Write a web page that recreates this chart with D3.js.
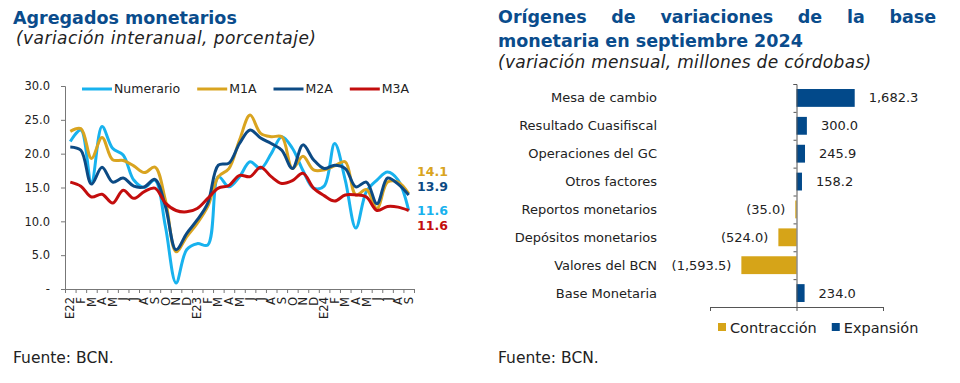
<!DOCTYPE html>
<html>
<head>
<meta charset="utf-8">
<script src="https://cdn.jsdelivr.net/npm/d3@7"></script>
<style>
  body { margin: 0; background: #fff; }
  svg { display: block; }
  text { font-family: "DejaVu Sans", Verdana, sans-serif; fill: #222; }
</style>
</head>
<body>
<svg id="chart" width="960" height="383"></svg>
<script>
// data - left chart (monthly, E22 .. S24)
var meses = ["E22","F","M","A","M","J","J","A","S","O","N","D",
             "E23","F","M","A","M","J","J","A","S","O","N","D",
             "E24","F","M","A","M","J","J","A","S"];
var numerario = [21.8,23.5,15.8,24.0,20.8,19.8,16.1,15.0,16.1,9.2,0.9,5.8,
                 6.7,6.5,16.6,15.1,16.6,18.8,17.8,20.0,22.5,20.8,17.5,14.9,
                 15.2,21.5,16.1,9.0,14.4,16.1,17.3,16.1,11.6];
var m1a = [23.3,23.7,19.3,22.4,19.1,19.0,18.2,17.2,18.0,13.1,5.5,7.7,
           9.7,12.2,16.6,17.8,22.0,25.7,23.0,22.5,22.5,17.8,19.6,17.6,
           17.6,18.2,18.8,13.9,14.7,11.9,15.8,15.8,14.1];
var m2a = [21.0,20.5,15.5,18.0,15.8,16.4,15.2,15.1,16.2,12.2,5.8,8.2,
           10.2,12.7,18.3,18.6,21.5,23.5,22.3,21.5,20.5,17.8,21.3,19.1,
           17.8,18.3,17.8,15.1,15.8,12.6,16.4,15.5,13.9];
var m3a = [15.8,15.2,13.6,14.0,12.7,14.6,13.4,14.4,14.9,12.7,11.6,11.4,
           11.9,13.4,14.9,15.3,16.8,16.6,18.0,16.6,15.6,16.0,17.1,14.9,
           13.8,13.0,13.9,13.9,13.6,11.6,12.2,12.1,11.6];
var seriesNames = ["Numerario","M1A","M2A","M3A"];
var yTicks = [0,5,10,15,20,25,30];

// data - right chart
var categorias = ["Mesa de cambio","Resultado Cuasifiscal","Operaciones del GC","Otros factores",
                  "Reportos monetarios","Depósitos monetarios","Valores del BCN","Base Monetaria"];
var valores = [1682.3,300.0,245.9,158.2,-35.0,-524.0,-1593.5,234.0];
var leyendaBarras = ["Contracción","Expansión"];

var azulTitulo = "#0a4c8c";
var colores = {"Numerario": "#18b2ee", "M1A": "#d9a420", "M2A": "#0c4a84", "M3A": "#c30d0d"};
var colContr = "#d6a418", colExp = "#02498a";

var svg = d3.select("#chart");

// ---------- titles ----------
svg.append("text")
    .attr("x", 13).attr("y", 24)
    .style("font-weight", "bold").style("font-size", "17.5px")
    .style("fill", azulTitulo)
    .text("Agregados monetarios");

svg.append("text")
    .attr("x", 16).attr("y", 44)
    .style("font-style", "italic").style("font-size", "17px")
    .style("letter-spacing", "0.45px")
    .text("(variación interanual, porcentaje)");

// justified first line of right title
var palabras = "Orígenes de variaciones de la base".split(" ");
var gTit = svg.append("g").style("font-weight", "bold").style("font-size", "17.5px");
var nodos = palabras.map(function(w) {
    return gTit.append("text").attr("y", 23).style("fill", azulTitulo).text(w);
});
var anchos = nodos.map(function(n) { return n.node().getComputedTextLength(); });
var hueco = (936 - 498 - d3.sum(anchos)) / (palabras.length - 1);
var xx = 498;
nodos.forEach(function(n, i) {
    n.attr("x", xx);
    xx += anchos[i] + hueco;
});

gTit.append("text")
    .attr("x", 498).attr("y", 47)
    .style("fill", azulTitulo)
    .text("monetaria en septiembre 2024");

svg.append("text")
    .attr("x", 498).attr("y", 68)
    .style("font-style", "italic").style("font-size", "17px")
    .style("letter-spacing", "0.3px")
    .text("(variación mensual, millones de córdobas)");

// fuente
svg.append("text").attr("x", 13).attr("y", 363).style("font-size", "15.5px").text("Fuente: BCN.");
svg.append("text").attr("x", 498).attr("y", 363).style("font-size", "15.5px").text("Fuente: BCN.");

// ---------- left: lines ----------
var xBand = d3.scaleBand().domain(d3.range(meses.length)).range([65, 414]).padding(0);
var xLin = d3.scaleLinear().domain([0, meses.length]).range([65, 414]);
var y = d3.scaleLinear().domain([0, 30]).range([289, 86]);

var yAxis = svg.append("g")
    .attr("transform", "translate(65,0)")
    .call(d3.axisLeft(y).tickValues(yTicks).tickSize(4).tickPadding(11)
        .tickFormat(function(d) { return d === 0 ? "-" : d3.format(".1f")(d); }));
yAxis.selectAll("text").style("font-size", "11.5px").style("fill", "#222");
yAxis.selectAll("path, line").attr("stroke", "#777");

var xTicks = svg.append("g")
    .attr("transform", "translate(0,289)")
    .call(d3.axisBottom(xLin).tickValues(d3.range(meses.length + 1)).tickSize(4).tickFormat(""));
xTicks.selectAll("path, line").attr("stroke", "#777");

var xLabels = svg.append("g")
    .attr("transform", "translate(0,289)")
    .call(d3.axisBottom(xBand).tickSize(0).tickFormat(function(i) { return meses[i]; }));
xLabels.select(".domain").remove();
xLabels.selectAll("text")
    .attr("transform", "rotate(-90)")
    .attr("x", -8).attr("y", 0).attr("dy", "0.36em")
    .style("text-anchor", "end")
    .style("font-size", "11.5px").style("fill", "#222");

var series = [numerario, m1a, m2a, m3a];
var line = d3.line()
    .x(function(d, i) { return xBand(i) + xBand.bandwidth() / 2; })
    .y(function(d) { return y(d); })
    .curve(d3.curveCatmullRom.alpha(0.5));

series.forEach(function(s, k) {
    svg.append("path")
        .datum(s)
        .attr("fill", "none")
        .attr("stroke", colores[seriesNames[k]])
        .attr("stroke-width", 3)
        .attr("d", line);
});

// end labels
var etiquetaDy = [0, -22, -8, 15];
series.forEach(function(s, k) {
    var v = s[s.length - 1];
    svg.append("text")
        .attr("x", 417)
        .attr("y", y(v) + etiquetaDy[k] + 4.5)
        .style("font-weight", "bold").style("font-size", "12.5px")
        .style("fill", colores[seriesNames[k]])
        .text(d3.format(".1f")(v));
});

// legend
var lx = 82;
seriesNames.forEach(function(name) {
    svg.append("line")
        .attr("x1", lx).attr("x2", lx + 30)
        .attr("y1", 89).attr("y2", 89)
        .attr("stroke", colores[name]).attr("stroke-width", 3);
    var t = svg.append("text")
        .attr("x", lx + 32).attr("y", 93)
        .style("font-size", "12.5px")
        .text(name);
    lx += 32 + t.node().getComputedTextLength() + 17;
});

// ---------- right: bars ----------
var x = d3.scaleLinear().domain([-2500, 2500]).range([710, 883]);
var yb = d3.scaleBand().domain(categorias).range([84, 307]).padding(0);
var yBound = d3.scaleLinear().domain([0, categorias.length]).range([84, 307]);

svg.selectAll(".bar")
    .data(valores)
    .enter()
    .append("rect")
    .attr("class", "bar")
    .attr("x", function(d) { return x(Math.min(0, d)); })
    .attr("y", function(d, i) { return yb(categorias[i]) + yb.bandwidth() * 0.18; })
    .attr("width", function(d) { return Math.abs(x(d) - x(0)); })
    .attr("height", yb.bandwidth() * 0.64)
    .attr("fill", function(d) { return d < 0 ? colContr : colExp; });

var catAxis = svg.append("g")
    .attr("transform", "translate(" + x(0) + ",0)")
    .call(d3.axisLeft(yBound).tickValues(d3.range(categorias.length + 1)).tickSize(3).tickFormat(""));
catAxis.selectAll("path, line").attr("stroke", "#555");

var valAxis = svg.append("g")
    .attr("transform", "translate(0,307)")
    .call(d3.axisBottom(x).tickValues([-2500, 0, 2500]).tickSize(4).tickFormat(""));
valAxis.selectAll("path, line").attr("stroke", "#555");

svg.selectAll(".cat")
    .data(categorias)
    .enter()
    .append("text")
    .attr("class", "cat")
    .attr("x", 657)
    .attr("y", function(d) { return yb(d) + yb.bandwidth() / 2; })
    .attr("dy", "0.35em")
    .style("text-anchor", "end")
    .style("font-size", "13px")
    .text(function(d) { return d; });

var fmt = d3.format(",.1f");
svg.selectAll(".val")
    .data(valores)
    .enter()
    .append("text")
    .attr("class", "val")
    .attr("x", function(d) { return d < 0 ? x(d) - 10 : x(d) + 14; })
    .attr("y", function(d, i) { return yb(categorias[i]) + yb.bandwidth() / 2; })
    .attr("dy", "0.35em")
    .style("text-anchor", function(d) { return d < 0 ? "end" : "start"; })
    .style("font-size", "13px")
    .text(function(d) { return d < 0 ? "(" + fmt(-d) + ")" : fmt(d); });

// bar legend
var bx = 718;
leyendaBarras.forEach(function(name, i) {
    svg.append("rect")
        .attr("x", bx).attr("y", 323)
        .attr("width", 8).attr("height", 8)
        .attr("fill", i === 0 ? colContr : colExp);
    var t = svg.append("text")
        .attr("x", bx + 12).attr("y", 332.5)
        .style("font-size", "14.5px")
        .text(name);
    bx += 12 + t.node().getComputedTextLength() + 15;
});
</script>
</body>
</html>
